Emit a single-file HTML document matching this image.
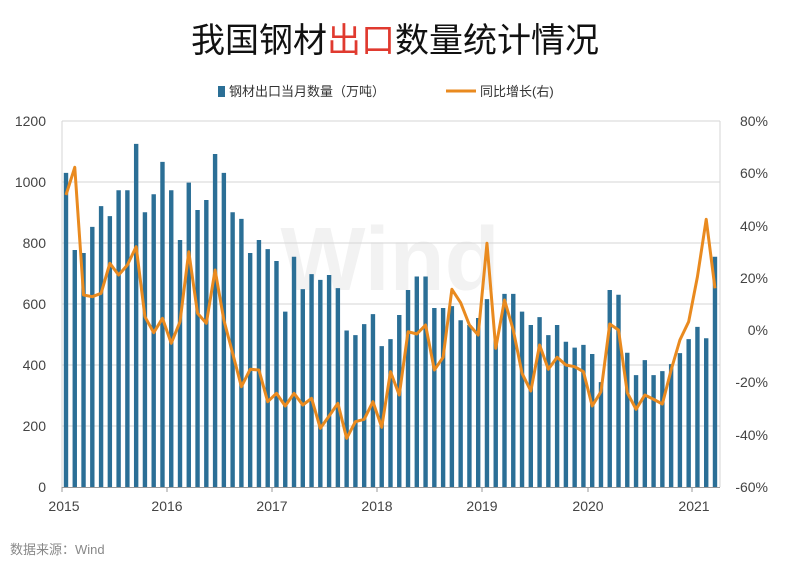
<!DOCTYPE html>
<html><head><meta charset="utf-8"><style>
body{margin:0;background:#fff;}
svg{display:block;font-family:"Liberation Sans","Noto Sans CJK SC",sans-serif;}
</style></head><body>
<svg width="790" height="571" viewBox="0 0 790 571" xmlns="http://www.w3.org/2000/svg">
<rect width="790" height="571" fill="#fff"/>
<text x="395" y="52" text-anchor="middle" font-size="34" fill="#111" font-family="'Noto Sans CJK SC',sans-serif">我国钢材<tspan fill="#e03a2f">出口</tspan>数量统计情况</text>
<rect x="218" y="86" width="7" height="11" fill="#2b6f96"/>
<text x="229" y="96" font-size="13" fill="#333">钢材出口当月数量（万吨）</text>
<line x1="446" y1="91" x2="476" y2="91" stroke="#e98a1f" stroke-width="3"/>
<text x="480" y="96" font-size="13" fill="#333">同比增长(右)</text>
<text x="390" y="290" text-anchor="middle" font-size="90" font-weight="bold" fill="#f2f2f2">Wind</text>
<g stroke="#d6d6d6" stroke-width="1">
<line x1="62" y1="121" x2="720" y2="121"/><line x1="62" y1="182" x2="720" y2="182"/>
<line x1="62" y1="243" x2="720" y2="243"/><line x1="62" y1="304" x2="720" y2="304"/>
<line x1="62" y1="365" x2="720" y2="365"/><line x1="62" y1="426" x2="720" y2="426"/>
<line x1="62" y1="121" x2="62" y2="487"/><line x1="720" y1="121" x2="720" y2="487"/>
</g>
<path fill="#2b6f96" d="M63.8 172.85h4.4V487h-4.4zM72.57 250.01h4.4V487h-4.4zM81.34 253.06h4.4V487h-4.4zM90.11 226.83h4.4V487h-4.4zM98.88 206.09h4.4V487h-4.4zM107.65 216.16h4.4V487h-4.4zM116.42 190.23h4.4V487h-4.4zM125.19 190.23h4.4V487h-4.4zM133.96 143.87h4.4V487h-4.4zM142.73 212.19h4.4V487h-4.4zM151.5 194.2h4.4V487h-4.4zM160.27 161.87h4.4V487h-4.4zM169.04 190.23h4.4V487h-4.4zM177.81 239.95h4.4V487h-4.4zM186.58 182.61h4.4V487h-4.4zM195.35 210.06h4.4V487h-4.4zM204.12 200h4.4V487h-4.4zM212.89 153.94h4.4V487h-4.4zM221.66 172.85h4.4V487h-4.4zM230.43 212.19h4.4V487h-4.4zM239.2 218.9h4.4V487h-4.4zM247.97 253.06h4.4V487h-4.4zM256.74 239.95h4.4V487h-4.4zM265.51 249.1h4.4V487h-4.4zM274.28 261h4.4V487h-4.4zM283.05 311.6h4.4V487h-4.4zM291.82 256.7h4.4V487h-4.4zM300.59 289.1h4.4V487h-4.4zM309.36 274.1h4.4V487h-4.4zM318.13 279.9h4.4V487h-4.4zM326.9 275h4.4V487h-4.4zM335.67 288.1h4.4V487h-4.4zM344.44 330.5h4.4V487h-4.4zM353.21 335.1h4.4V487h-4.4zM361.98 324.1h4.4V487h-4.4zM370.75 314.1h4.4V487h-4.4zM379.52 346.1h4.4V487h-4.4zM388.29 339.1h4.4V487h-4.4zM397.06 315h4.4V487h-4.4zM405.83 290h4.4V487h-4.4zM414.6 276.5h4.4V487h-4.4zM423.37 276.5h4.4V487h-4.4zM432.14 308h4.4V487h-4.4zM440.91 308h4.4V487h-4.4zM449.68 306.1h4.4V487h-4.4zM458.45 320.2h4.4V487h-4.4zM467.22 325h4.4V487h-4.4zM475.99 318h4.4V487h-4.4zM484.76 299.1h4.4V487h-4.4zM493.53 340h4.4V487h-4.4zM502.3 293.9h4.4V487h-4.4zM511.07 293.9h4.4V487h-4.4zM519.84 311.6h4.4V487h-4.4zM528.61 325h4.4V487h-4.4zM537.38 317.1h4.4V487h-4.4zM546.15 335.1h4.4V487h-4.4zM554.92 325h4.4V487h-4.4zM563.69 341.8h4.4V487h-4.4zM572.46 347.6h4.4V487h-4.4zM581.23 344.9h4.4V487h-4.4zM590 354h4.4V487h-4.4zM598.77 382.1h4.4V487h-4.4zM607.54 290h4.4V487h-4.4zM616.31 294.8h4.4V487h-4.4zM625.08 352.8h4.4V487h-4.4zM633.85 375.1h4.4V487h-4.4zM642.62 360.1h4.4V487h-4.4zM651.39 375.1h4.4V487h-4.4zM660.16 371.1h4.4V487h-4.4zM668.93 364.1h4.4V487h-4.4zM677.7 353.1h4.4V487h-4.4zM686.47 339.1h4.4V487h-4.4zM695.24 326.9h4.4V487h-4.4zM704.01 338.2h4.4V487h-4.4zM712.78 256.7h4.4V487h-4.4z"/>
<line x1="62" y1="487.5" x2="720" y2="487.5" stroke="#999"/>
<g stroke="#999"><line x1="62" y1="487" x2="62" y2="492"/><line x1="167" y1="487" x2="167" y2="492"/><line x1="272" y1="487" x2="272" y2="492"/><line x1="377" y1="487" x2="377" y2="492"/><line x1="482" y1="487" x2="482" y2="492"/><line x1="588" y1="487" x2="588" y2="492"/><line x1="692" y1="487" x2="692" y2="492"/></g>
<polyline fill="none" stroke="#e98a1f" stroke-width="3" stroke-linejoin="round" points="66,195 74.77,167.3 83.54,295 92.31,296.7 101.08,293.3 109.85,263.3 118.62,275 127.39,265 136.16,246.7 144.93,316.7 153.7,332.7 162.47,318.3 171.24,343.3 180.01,321.7 188.78,251.7 197.55,313.3 206.32,323.3 215.09,270 223.86,320 232.63,353.3 241.4,386.7 250.17,369.3 258.94,370 267.71,401.7 276.48,393.3 285.25,406 294.02,393.3 302.79,405 311.56,398.3 320.33,428.3 329.1,416 337.87,403.3 346.64,438.3 355.41,421.7 364.18,419.3 372.95,401.7 381.72,427.3 390.49,371.7 399.26,395 408.03,331.7 416.8,334 425.57,325 434.34,370 443.11,357.3 451.88,289.3 460.65,302.7 469.42,325 478.19,335 486.96,243.3 495.73,348.3 504.5,300 513.27,330 522.04,373.3 530.81,391 539.58,345 548.35,369.3 557.12,357.3 565.89,365 574.66,366.7 583.43,371.7 592.2,406 600.97,391.7 609.74,324 618.51,330 627.28,392.7 636.05,409.3 644.82,395 653.59,399.3 662.36,404 671.13,370 679.9,340 688.67,321.7 697.44,276.7 706.21,219.3 714.98,288.3"/>
<g font-size="14" fill="#444" text-anchor="end">
<text x="46" y="126">1200</text><text x="46" y="187">1000</text><text x="46" y="248">800</text><text x="46" y="309">600</text><text x="46" y="370">400</text><text x="46" y="431">200</text><text x="46" y="492">0</text>
</g>
<g font-size="14" fill="#444" text-anchor="end">
<text x="768" y="126">80%</text><text x="768" y="178">60%</text><text x="768" y="231">40%</text><text x="768" y="283">20%</text><text x="768" y="335">0%</text><text x="768" y="387">-20%</text><text x="768" y="440">-40%</text><text x="768" y="492">-60%</text>
</g>
<g font-size="14" fill="#444" text-anchor="middle">
<text x="64" y="511">2015</text><text x="167" y="511">2016</text><text x="272" y="511">2017</text><text x="377" y="511">2018</text><text x="482" y="511">2019</text><text x="588" y="511">2020</text><text x="694" y="511">2021</text>
</g>
<text x="10" y="554" font-size="13" fill="#888">数据来源：Wind</text>
</svg>
</body></html>
